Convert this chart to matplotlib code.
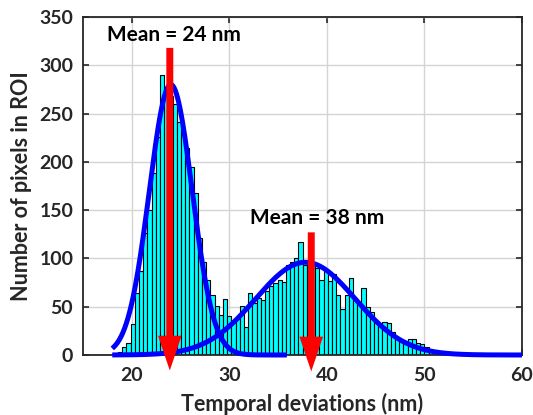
import matplotlib.pyplot as plt
import numpy as np
from matplotlib.patches import FancyArrowPatch, ArrowStyle

plt.rcParams["font.family"] = ["Lato", "DejaVu Sans"]
plt.rcParams["font.weight"] = "bold"

DARK = "#262626"

# histogram: first bin edge and width (nm), counts per bin
BIN_START = 18.6
BIN_WIDTH = 0.43
counts = [
    3, 8, 12, 32, 64, 87, 126, 150, 188, 226,
    290, 278, 268, 260, 241, 228, 214, 195, 168, 121,
    96, 78, 62, 51, 41, 58, 40, 33, 37, 51,
    29, 64, 54, 59, 57, 66, 71, 75, 78, 76,
    93, 96, 100, 117, 93, 96, 94, 90, 78, 89,
    77, 84, 62, 48, 62, 80, 59, 55, 69, 50,
    45, 34, 31, 34, 33, 24, 19, 13, 15, 17,
    17, 12, 11, 8, 5, 4, 3, 2, 1,
]

# gaussian fits: amplitude, mean, sigma, x-range drawn
fit1 = dict(amp=280, mu=24.0, sigma=2.2, x0=18.0, x1=35.9)
fit2 = dict(amp=96, mu=37.8, sigma=5.1, x0=18.0, x1=60.0)

# mean arrows: x, top y, tip y, label
means = [
    dict(x=23.9, top=318, tip=-16, label="Mean = 24 nm", lx=24.35, ly=321),
    dict(x=38.4, top=127, tip=-17, label="Mean = 38 nm", lx=39.0, ly=131),
]


def main():
    fig = plt.figure(figsize=(5.33, 4.15), dpi=100)
    ax = fig.add_axes([0.1557, 0.1446, 0.8236, 0.8145])

    edges = BIN_START + BIN_WIDTH * np.arange(len(counts))
    ax.bar(edges, counts, width=BIN_WIDTH, align="edge", color="#00ffff",
           edgecolor="black", linewidth=0.8, zorder=2)

    for f in (fit1, fit2):
        xs = np.linspace(f["x0"], f["x1"], 300)
        ys = f["amp"] * np.exp(-((xs - f["mu"]) ** 2) / (2 * f["sigma"] ** 2))
        ax.plot(xs, ys, color="#0000ff", linewidth=3.6, zorder=3,
                solid_capstyle="butt", clip_on=False)

    style = ArrowStyle.Simple(head_length=2.5, head_width=1.7, tail_width=0.5)
    for m in means:
        arr = FancyArrowPatch((m["x"], m["top"]), (m["x"], m["tip"]),
                              arrowstyle=style, mutation_scale=10,
                              color="red", linewidth=0, zorder=5,
                              clip_on=False, shrinkA=0, shrinkB=0)
        ax.add_patch(arr)
        ax.text(m["lx"], m["ly"], m["label"], ha="center", va="bottom",
                fontsize=15, fontweight="bold", color="black", zorder=6)

    ax.set_xlim(15, 60)
    ax.set_ylim(0, 350)
    ax.set_xticks([20, 30, 40, 50, 60])
    ax.set_yticks(range(0, 351, 50))
    ax.grid(True, color="#d4d4d4", linewidth=1.0, zorder=0)
    ax.set_axisbelow(True)

    ax.tick_params(direction="in", length=4, width=1.2, colors=DARK,
                   labelsize=14, top=True, right=True)
    ax.tick_params(axis="x", pad=9)
    ax.tick_params(axis="y", pad=7)
    for lab in ax.get_xticklabels() + ax.get_yticklabels():
        lab.set_fontweight("bold")
    for sp in ax.spines.values():
        sp.set_color(DARK)
        sp.set_linewidth(1.3)

    ax.set_xlabel("Temporal deviations (nm)", fontsize=15.5,
                  fontweight="bold", color=DARK, labelpad=6)
    ax.set_ylabel("Number of pixels in ROI", fontsize=15.5,
                  fontweight="bold", color=DARK, labelpad=5)

    fig.savefig("out.png", dpi=100)
    plt.close(fig)


if __name__ == "__main__":
    main()
